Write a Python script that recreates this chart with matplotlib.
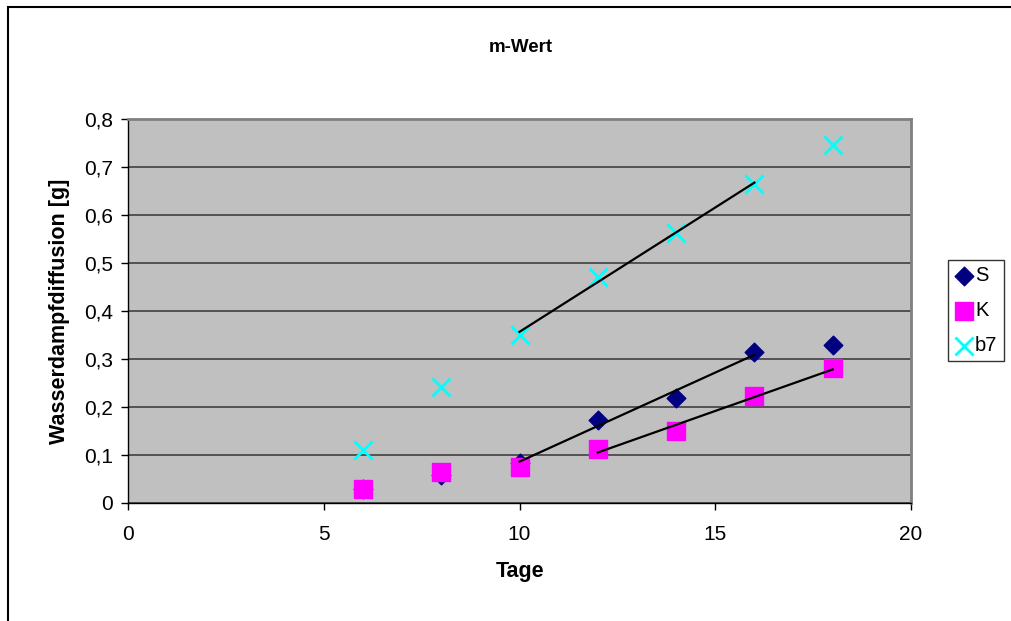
import numpy as np
import matplotlib
matplotlib.use('Agg')
import matplotlib.pyplot as plt
from matplotlib.patches import Rectangle
from matplotlib.ticker import FuncFormatter

plt.rcParams['font.family'] = ['Liberation Sans', 'DejaVu Sans']

# Messwerte
tage = [6, 8, 10, 12, 14, 16, 18]
s_vals = [0.030, 0.058, 0.083, 0.173, 0.219, 0.315, 0.329]
k_vals = [0.029, 0.064, 0.075, 0.113, 0.150, 0.223, 0.281]
b7_vals = [0.110, 0.242, 0.350, 0.471, 0.562, 0.665, 0.746]

# Bereiche der Trendlinien (Tage von..bis)
s_trend = (10, 16)
k_trend = (12, 18)
b7_trend = (10, 16)

fig = plt.figure(figsize=(10.12, 6.21), dpi=100)
ax = fig.add_axes([128 / 1012, 1 - 503 / 621, 783 / 1012, 384 / 621])
ax.set_facecolor('#C0C0C0')

ax.scatter(tage, s_vals, marker='D', s=90, color='#000080', label='S', zorder=3)
ax.scatter(tage, k_vals, marker='s', s=150, color='#FF00FF', label='K', zorder=4)
ax.scatter(tage, b7_vals, marker='x', s=170, color='#00FFFF', linewidths=2, label='b7', zorder=5)


def trend(vals, rng):
    x = np.array(tage)
    y = np.array(vals)
    m = (x >= rng[0]) & (x <= rng[1])
    k, d = np.polyfit(x[m], y[m], 1)
    xx = np.array(rng)
    ax.plot(xx, k * xx + d, color='black', lw=1.6, zorder=6)


trend(s_vals, s_trend)
trend(k_vals, k_trend)
trend(b7_vals, b7_trend)

ax.set_xlim(0, 20)
ax.set_ylim(0, 0.8)
ax.set_xticks([0, 5, 10, 15, 20])
ax.set_yticks(np.arange(0, 0.81, 0.1))
ax.yaxis.set_major_formatter(FuncFormatter(lambda v, p: '0' if v == 0 else f'{v:.1f}'.replace('.', ',')))
ax.grid(axis='y', color='#404040', lw=1.2)
ax.set_axisbelow(True)
ax.tick_params(direction='out', length=5, width=1, labelsize=15, color='black')
ax.tick_params(axis='x', pad=11)
ax.tick_params(axis='y', pad=6)
for sp in ['top', 'right']:
    ax.spines[sp].set_color('#808080')
    ax.spines[sp].set_linewidth(2)
for sp in ['left', 'bottom']:
    ax.spines[sp].set_color('black')
    ax.spines[sp].set_linewidth(1)

fig.text(520 / 1012, 1 - 572 / 621, 'Tage', fontsize=15.5, fontweight='bold', ha='center', va='center')
fig.text(60 / 1012, 1 - 311 / 621, 'Wasserdampfdiffusion [g]', fontsize=15.5, fontweight='bold',
         ha='center', va='center', rotation=90)
fig.text(521 / 1012, 1 - 48 / 621, 'm-Wert', fontsize=13.5, fontweight='bold', ha='center', va='center')

leg = fig.legend(loc='upper left', bbox_to_anchor=(948 / 1012, 1 - 260 / 621), fontsize=14.5,
                 frameon=True, fancybox=False, edgecolor='black', handletextpad=0.05,
                 borderpad=0.3, labelspacing=0.8, handlelength=1.0, borderaxespad=0)
leg.get_frame().set_linewidth(1)

# Rahmen des Diagrammbereichs
fig.patches.append(Rectangle((8 / 1012, -0.05), 1.1, 1 - 6.5 / 621 + 0.05, transform=fig.transFigure,
                             fill=False, edgecolor='black', lw=1.5))

fig.savefig('out.png', dpi=100)
